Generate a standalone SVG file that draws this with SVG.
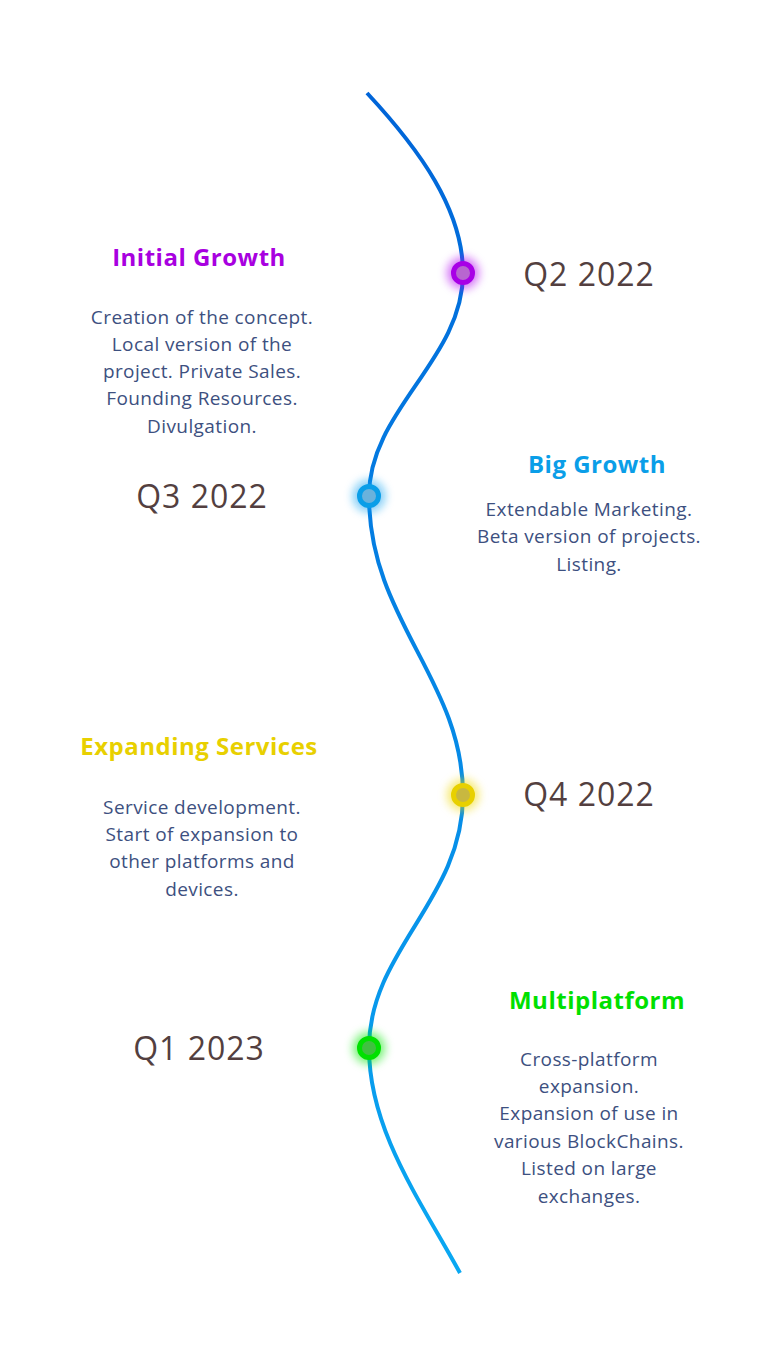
<svg xmlns="http://www.w3.org/2000/svg" width="768" height="1366" viewBox="0 0 768 1366">
<defs>
<linearGradient id="lineGrad" x1="0" y1="93" x2="0" y2="1273" gradientUnits="userSpaceOnUse">
<stop offset="0" stop-color="#0064d8"/>
<stop offset="1" stop-color="#0aa8f2"/>
</linearGradient>
<filter id="glow" x="-200%" y="-200%" width="500%" height="500%">
<feGaussianBlur stdDeviation="5"/>
</filter>
<style>
.title{font-family:"Open Sans","Liberation Sans",sans-serif;font-weight:700;font-size:24px;letter-spacing:0.5px;text-anchor:middle}
.q{font-family:"Open Sans","Liberation Sans",sans-serif;font-size:32px;letter-spacing:1px;fill:#533f40;text-anchor:middle}
.body{font-family:"Open Sans","Liberation Sans",sans-serif;font-size:19px;letter-spacing:0.4px;fill:#3d5080;text-anchor:middle}
</style>
</defs>
<rect width="768" height="1366" fill="#ffffff"/>
<g id="connectors">
<path d="M367,93 C420,150 463,210 463,273 C463,360 369,410 369,496 C369,620 463,680 463,795 C463,900 369,950 369,1048 C369,1130 420,1200 460,1273" fill="none" stroke="url(#lineGrad)" stroke-width="4" stroke-linecap="butt"/>
</g>
<g id="node-q2-2022">
<circle cx="463" cy="273" r="16" fill="#b000f0" opacity="0.55" filter="url(#glow)"/>
<circle cx="463" cy="273" r="9.5" fill="#b866d0" stroke="#a800e6" stroke-width="5"/>
<text class="title" x="199" y="266" fill="#a800e0">Initial Growth</text>
<text class="q" x="589" y="286">Q2 2022</text>
<text class="body" x="202" y="324">Creation of the concept.</text>
<text class="body" x="202" y="351">Local version of the</text>
<text class="body" x="202" y="378">project. Private Sales.</text>
<text class="body" x="202" y="405">Founding Resources.</text>
<text class="body" x="202" y="433">Divulgation.</text>
</g>
<g id="node-q3-2022">
<circle cx="369" cy="496" r="16" fill="#0aa0f0" opacity="0.55" filter="url(#glow)"/>
<circle cx="369" cy="496" r="9.5" fill="#6ab2dc" stroke="#0a9ee8" stroke-width="5"/>
<text class="q" x="202" y="508">Q3 2022</text>
<text class="title" x="597" y="473" fill="#0a9ee8">Big Growth</text>
<text class="body" x="589" y="516">Extendable Marketing.</text>
<text class="body" x="589" y="543">Beta version of projects.</text>
<text class="body" x="589" y="571">Listing.</text>
</g>
<g id="node-q4-2022">
<circle cx="463" cy="795" r="16" fill="#f0d800" opacity="0.55" filter="url(#glow)"/>
<circle cx="463" cy="795" r="9.5" fill="#c8b840" stroke="#e8d000" stroke-width="5"/>
<text class="title" x="199" y="755" fill="#e8d000">Expanding Services</text>
<text class="q" x="589" y="806">Q4 2022</text>
<text class="body" x="202" y="814">Service development.</text>
<text class="body" x="202" y="841">Start of expansion to</text>
<text class="body" x="202" y="868">other platforms and</text>
<text class="body" x="202" y="896">devices.</text>
</g>
<g id="node-q1-2023">
<circle cx="369" cy="1048" r="16" fill="#00e800" opacity="0.55" filter="url(#glow)"/>
<circle cx="369" cy="1048" r="9.5" fill="#40c040" stroke="#00e000" stroke-width="5"/>
<text class="q" x="199" y="1060">Q1 2023</text>
<text class="title" x="597" y="1009" fill="#00e000">Multiplatform</text>
<text class="body" x="589" y="1066">Cross-platform</text>
<text class="body" x="589" y="1093">expansion.</text>
<text class="body" x="589" y="1120">Expansion of use in</text>
<text class="body" x="589" y="1148">various BlockChains.</text>
<text class="body" x="589" y="1175">Listed on large</text>
<text class="body" x="589" y="1203">exchanges.</text>
</g>
</svg>
